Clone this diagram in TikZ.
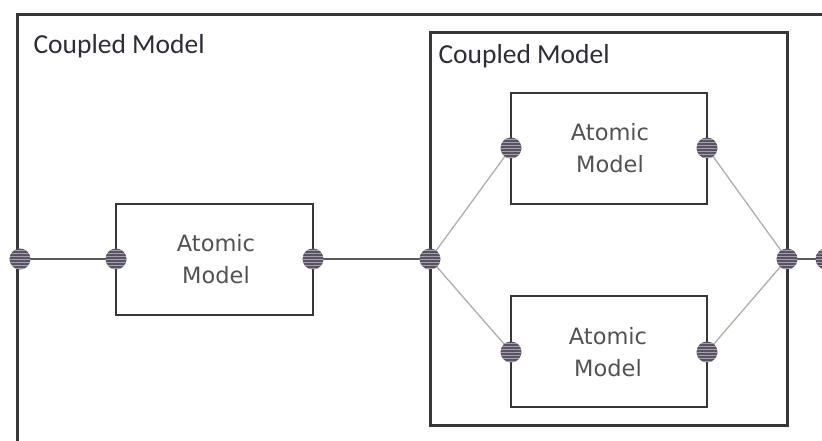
\documentclass[tikz,border=0pt]{standalone}
\usepackage{fontspec}
\setmainfont{Carlito}
\newfontfamily\atomicfont{DejaVu Sans}
\usetikzlibrary{patterns}
\definecolor{portfill}{RGB}{88,82,98}
\definecolor{portline}{RGB}{165,160,172}
\definecolor{frame}{RGB}{55,55,55}
\definecolor{wire}{RGB}{90,90,90}
\definecolor{softwire}{RGB}{175,175,170}
\definecolor{labeltext}{RGB}{45,45,55}
\tikzset{
  coupled/.style={draw=frame, line width=3pt},
  atomic/.style={draw=frame, line width=1.6pt, fill=white},
  port/.style={circle, minimum size=21pt, inner sep=0pt, fill=portfill,
    postaction={pattern=horizontal lines, pattern color=portline}},
  wire/.style={draw=wire, line width=1.3pt},
  softwire/.style={draw=softwire, line width=1.3pt},
  cmlabel/.style={anchor=west, text=labeltext, font=\fontsize{27.5}{30}\selectfont},
  amlabel/.style={align=center, text=black!68, font=\atomicfont\fontsize{22.5}{32}\selectfont}
}
\begin{document}
\begin{tikzpicture}[x=1pt, y=-1pt]
  \useasboundingbox (0,0) rectangle (822,440);
  \fill[white] (0,0) rectangle (822,440);

  % outer coupled model (extends past the right and bottom edges)
  \draw[coupled] (17,460) -- (17,14) -- (840,14);
  \node[cmlabel] (outerlbl) at (30,46) {Coupled Model};

  % inner coupled model
  \draw[coupled] (430,32) rectangle (787,425);
  \node[cmlabel] (innerlbl) at (435,56) {Coupled Model};

  % atomic models
  \draw[atomic] (116,204) rectangle (313,315);
  \node[amlabel] (a1) at (216,259) {Atomic\\Model};
  \draw[atomic] (511,93) rectangle (707,204);
  \node[amlabel] (a2) at (610,148) {Atomic\\Model};
  \draw[atomic] (511,296) rectangle (707,407);
  \node[amlabel] (a3) at (608,352) {Atomic\\Model};

  % port positions
  \coordinate (pOutIn)   at (20,259);
  \coordinate (pA1in)    at (116,259);
  \coordinate (pA1out)   at (313,259);
  \coordinate (pCin)     at (430,259);
  \coordinate (pA2in)    at (511,148);
  \coordinate (pA2out)   at (707,148);
  \coordinate (pA3in)    at (511,352);
  \coordinate (pA3out)   at (707,352);
  \coordinate (pCout)    at (787,259);
  \coordinate (pOutOut)  at (826,259);

  % couplings
  \draw[wire] (pOutIn) -- (pA1in);
  \draw[wire] (pA1out) -- (pCin);
  \draw[softwire] (pCin) -- (pA2in);
  \draw[softwire] (pCin) -- (pA3in);
  \draw[softwire] (pA2out) -- (pCout);
  \draw[softwire] (pA3out) -- (pCout);
  \draw[wire] (pCout) -- (pOutOut);

  % ports
  \foreach \p in {pOutIn,pA1in,pA1out,pCin,pA2in,pA2out,pA3in,pA3out,pCout,pOutOut}
    \node[port] at (\p) {};
\end{tikzpicture}
\end{document}
